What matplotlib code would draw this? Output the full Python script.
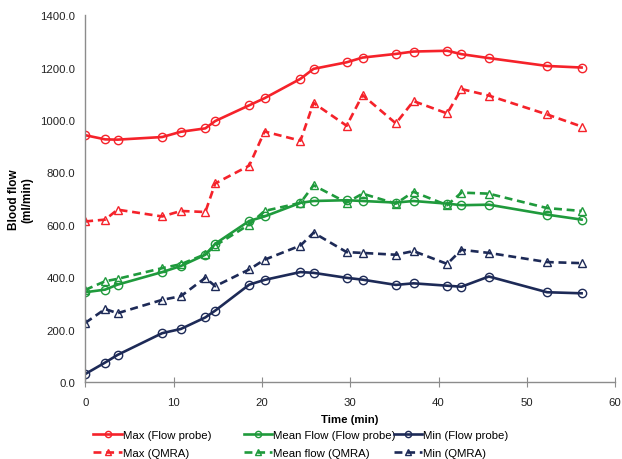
import matplotlib
matplotlib.use("Agg")
import matplotlib.pyplot as plt

plt.rcParams['font.family'] = ['Liberation Sans', 'DejaVu Sans']

time_min = [0, 2.26, 3.66, 8.72, 10.83, 13.6, 14.72, 18.57, 20.3, 24.37, 25.85,
            29.6, 31.4, 35.17, 37.17, 40.98, 42.6, 45.7, 52.3, 56.2]

max_probe = [942, 926, 925, 935, 955, 968, 996, 1056, 1083, 1157, 1195,
             1220, 1238, 1252, 1261, 1264, 1251, 1236, 1206, 1200]
max_qmra = [613, 620, 658, 632, 653, 649, 758, 826, 956, 921, 1065,
            978, 1095, 987, 1072, 1025, 1118, 1093, 1021, 975]
mean_probe = [343, 353, 372, 420, 443, 486, 528, 615, 632, 684, 691,
              694, 691, 685, 691, 681, 675, 677, 639, 620]
mean_qmra = [352, 385, 394, 435, 450, 488, 521, 601, 653, 684, 751,
             685, 719, 681, 726, 675, 723, 719, 664, 653]
min_probe = [31, 75, 104, 187, 203, 247, 273, 372, 390, 420, 417,
             398, 391, 371, 377, 368, 364, 403, 343, 339]
min_qmra = [226, 279, 263, 314, 328, 398, 366, 430, 467, 521, 570,
            496, 493, 486, 500, 451, 505, 493, 458, 454]

labels = ["Max (Flow probe)", "Max (QMRA)", "Mean Flow (Flow probe)",
          "Mean flow (QMRA)", "Min (Flow probe)", "Min (QMRA)"]

RED = '#f5222a'
GREEN = '#1f9a3c'
NAVY = '#1d2a57'
FS = 8.2

fig = plt.figure(figsize=(6.22, 4.6), dpi=100)
ax = fig.add_axes([0.137, 0.167, 0.852, 0.798])

series = [
    (max_probe, RED, '-', 'o'),
    (max_qmra, RED, '--', '^'),
    (mean_probe, GREEN, '-', 'o'),
    (mean_qmra, GREEN, '--', '^'),
    (min_probe, NAVY, '-', 'o'),
    (min_qmra, NAVY, '--', '^'),
]
handles = []
for (vals, col, ls, mk), lab in zip(series, labels):
    kw = dict(color=col, linestyle=ls, linewidth=1.9, marker=mk,
              markersize=6, markerfacecolor='none', markeredgecolor=col,
              markeredgewidth=1.0, label=lab)
    if ls == '--':
        kw['dashes'] = (3, 1.8)
    h, = ax.plot(time_min, vals, **kw)
    handles.append(h)

ax.set_xlim(0, 60)
ax.set_ylim(0, 1400)
ax.set_xticks([0, 10, 20, 30, 40, 50, 60])
yt = [0, 200, 400, 600, 800, 1000, 1200, 1400]
ax.set_yticks(yt)
ax.set_yticklabels([f"{v:.1f}" for v in yt])
for s in ['top', 'right']:
    ax.spines[s].set_visible(False)
for s in ['left', 'bottom']:
    ax.spines[s].set_color('#8c8c8c')
    ax.spines[s].set_linewidth(1.0)
ax.tick_params(axis='x', direction='inout', length=7, color='#8c8c8c',
               labelsize=FS, pad=7, labelcolor='#222222')
ax.tick_params(axis='y', length=0, labelsize=FS, pad=7, labelcolor='#222222')

ax.set_xlabel("Time (min)", fontsize=FS, fontweight='bold', labelpad=5)
ax.set_ylabel("Blood flow\n(ml/min)", fontsize=FS + 0.3, fontweight='bold',
              labelpad=5, linespacing=1.15)

col_x = [0.150, 0.392, 0.633]
for i, x in enumerate(col_x):
    hs = handles[2 * i:2 * i + 2]
    fig.legend(handles=hs, labels=[h.get_label() for h in hs], loc='upper left',
               bbox_to_anchor=(x, 0.063), frameon=False, fontsize=FS,
               handlelength=2.5, handletextpad=0.1, labelspacing=0.7,
               borderpad=0, borderaxespad=0, markerscale=0.75, numpoints=1)

fig.savefig("out.png", dpi=100)
